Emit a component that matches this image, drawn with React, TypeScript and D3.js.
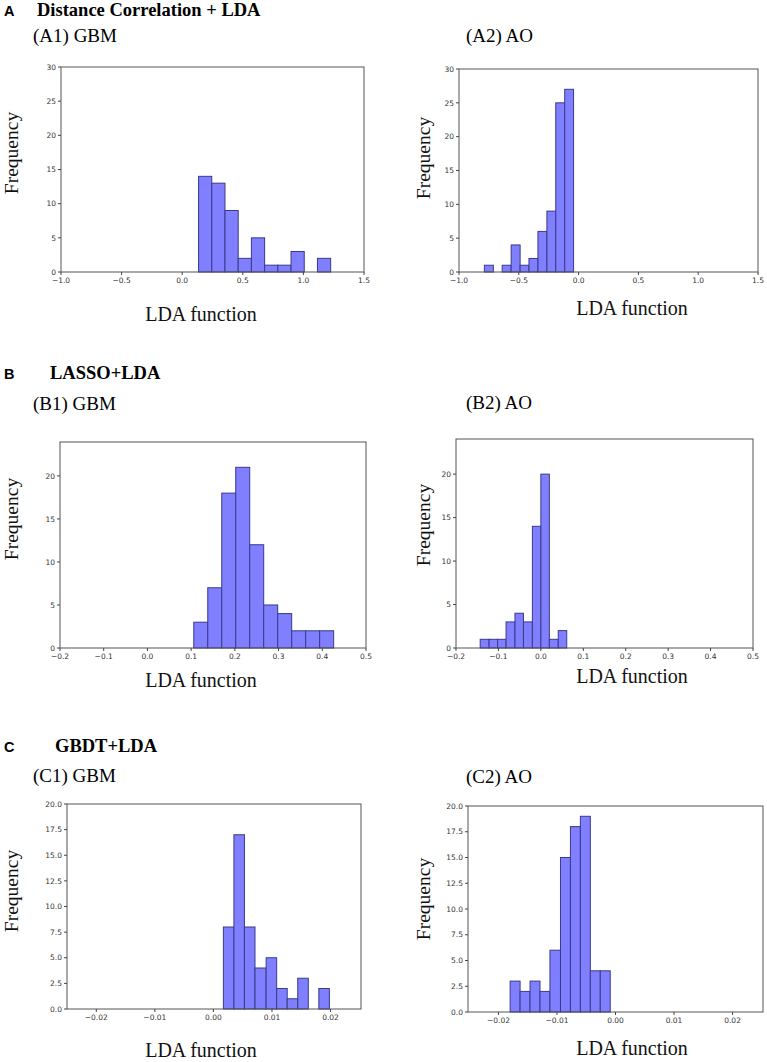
import React from "react";
import * as d3 from "d3";

// ---- data ----
const a1Edges = [0.135, 0.244, 0.353, 0.462, 0.571, 0.68, 0.789, 0.898, 1.007, 1.116, 1.225];
const a1Counts = [14, 13, 9, 2, 5, 1, 1, 3, 0, 2];
const a2Edges = [-0.788, -0.713, -0.639, -0.564, -0.489, -0.415, -0.34, -0.265, -0.191, -0.116, -0.042];
const a2Counts = [1, 0, 1, 4, 1, 2, 6, 9, 25, 27];
const b1Edges = [0.106, 0.138, 0.17, 0.202, 0.234, 0.266, 0.298, 0.33, 0.362, 0.394, 0.426];
const b1Counts = [3, 7, 18, 21, 12, 5, 4, 2, 2, 2];
const b2Edges = [-0.143, -0.122, -0.102, -0.082, -0.061, -0.041, -0.02, 0.0, 0.02, 0.041, 0.061];
const b2Counts = [1, 1, 1, 3, 4, 3, 14, 20, 1, 2];
const c1Edges = [0.0017, 0.0035, 0.0053, 0.0071, 0.009, 0.0108, 0.0126, 0.0144, 0.0162, 0.018, 0.0198];
const c1Counts = [8, 17, 8, 4, 5, 2, 1, 3, 0, 2];
const c2Edges = [-0.018, -0.0163, -0.0146, -0.0129, -0.0112, -0.0094, -0.0077, -0.006, -0.0043, -0.0026, -0.0009];
const c2Counts = [3, 2, 3, 2, 6, 15, 18, 19, 4, 4];

const aXTicks = [-1.0, -0.5, 0.0, 0.5, 1.0, 1.5];
const aYTicks = [0, 5, 10, 15, 20, 25, 30];
const bXTicks = [-0.2, -0.1, 0.0, 0.1, 0.2, 0.3, 0.4, 0.5];
const bYTicks = [0, 5, 10, 15, 20];
const cXTicks = [-0.02, -0.01, 0.0, 0.01, 0.02];
const cYTicks = [0, 2.5, 5, 7.5, 10, 12.5, 15, 17.5, 20];

const sectionLetters = ["A", "B", "C"];
const sectionTitles = ["Distance Correlation + LDA", "LASSO+LDA", "GBDT+LDA"];
const panelTitles = ["(A1) GBM", "(A2) AO", "(B1) GBM", "(B2) AO", "(C1) GBM", "(C2) AO"];
const xLabel = "LDA function";
const yLabel = "Frequency";

const SERIF = "'Liberation Serif', 'Times New Roman', serif";
const SANS = "'DejaVu Sans', sans-serif";

const fmt = (d: number) => (s: number) => {
  const t = Math.abs(s).toFixed(d);
  return (s < 0 && parseFloat(t) !== 0 ? "\u2212" : "") + t;
};

type HistProps = {
  x0: number; x1: number; y0: number; y1: number;
  xDomain: [number, number]; yDomain: [number, number];
  xTicks: number[]; yTicks: number[];
  xFmt: (v: number) => string; yFmt: (v: number) => string;
  edges: number[]; counts: number[];
  ylx: number; yly: number; xlx: number; xly: number;
};

function Hist(p: HistProps) {
  const x = d3.scaleLinear().domain(p.xDomain).range([p.x0, p.x1]);
  const y = d3.scaleLinear().domain(p.yDomain).range([p.y1, p.y0]);
  return (
    <g>
      {p.counts.map((c, i) =>
        c > 0 ? (
          <rect
            key={i}
            x={x(p.edges[i])}
            y={y(c)}
            width={x(p.edges[i + 1]) - x(p.edges[i])}
            height={y(0) - y(c)}
            fill="#7f7fff"
            stroke="#3a3a8c"
            strokeWidth={1}
          />
        ) : null
      )}
      <rect x={p.x0} y={p.y0} width={p.x1 - p.x0} height={p.y1 - p.y0} fill="none" stroke="#555" strokeWidth={1} />
      {p.xTicks.map((t, i) => (
        <g key={"x" + i}>
          <line x1={x(t)} x2={x(t)} y1={p.y1} y2={p.y1 + 3} stroke="#444" />
          <text x={x(t)} y={p.y1 + 11} fontFamily={SANS} fontSize={7.5} fill="#333" textAnchor="middle">
            {p.xFmt(t)}
          </text>
        </g>
      ))}
      {p.yTicks.map((t, i) => (
        <g key={"y" + i}>
          <line x1={p.x0 - 3} x2={p.x0} y1={y(t)} y2={y(t)} stroke="#444" />
          <text x={p.x0 - 5} y={y(t) + 2.7} fontFamily={SANS} fontSize={7.5} fill="#333" textAnchor="end">
            {p.yFmt(t)}
          </text>
        </g>
      ))}
      <text
        transform={`translate(${p.ylx},${p.yly}) rotate(-90)`}
        fontFamily={SERIF}
        fontSize={19.5}
        textAnchor="middle"
        fill="#111"
      >
        {yLabel}
      </text>
      <text x={p.xlx} y={p.xly} fontFamily={SERIF} fontSize={20} textAnchor="middle" fill="#111">
        {xLabel}
      </text>
    </g>
  );
}

export default function App() {
  const f1 = fmt(1);
  const f2 = fmt(2);
  const f0 = fmt(0);
  return (
    <svg width={767} height={1062} style={{ position: "absolute", left: 0, top: 0, background: "#fff" }}>
      <rect width={767} height={1062} fill="#fff" />
      {/* section headers */}
      {[16, 379, 752].map((yy, i) => (
        <g key={i}>
          <text x={4} y={yy} fontFamily="'Liberation Sans', Arial, sans-serif" fontWeight="bold" fontSize={14.5}>
            {sectionLetters[i]}
          </text>
          <text x={[37, 50, 55][i]} y={yy} fontFamily={SERIF} fontWeight="bold" fontSize={18.5}>
            {sectionTitles[i]}
          </text>
        </g>
      ))}
      {[
        [33, 42], [466, 42], [33, 410], [466, 409], [33, 782], [466, 783],
      ].map(([xx, yy], i) => (
        <text key={i} x={xx} y={yy} fontFamily={SERIF} fontSize={19}>
          {panelTitles[i]}
        </text>
      ))}
      <Hist x0={61} x1={364} y0={67} y1={272} xDomain={[-1, 1.5]} yDomain={[0, 30]}
        xTicks={aXTicks} yTicks={aYTicks} xFmt={f1} yFmt={f0}
        edges={a1Edges} counts={a1Counts} ylx={18} yly={153} xlx={201} xly={321} />
      <Hist x0={459} x1={758} y0={69} y1={272} xDomain={[-1, 1.5]} yDomain={[0, 30]}
        xTicks={aXTicks} yTicks={aYTicks} xFmt={f1} yFmt={f0}
        edges={a2Edges} counts={a2Counts} ylx={430} yly={158} xlx={632} xly={315} />
      <Hist x0={60} x1={366} y0={442} y1={648} xDomain={[-0.2, 0.5]} yDomain={[0, 23.94]}
        xTicks={bXTicks} yTicks={bYTicks} xFmt={f1} yFmt={f0}
        edges={b1Edges} counts={b1Counts} ylx={18} yly={519} xlx={201} xly={687} />
      <Hist x0={456} x1={753} y0={439} y1={648} xDomain={[-0.2, 0.5]} yDomain={[0, 24.04]}
        xTicks={bXTicks} yTicks={bYTicks} xFmt={f1} yFmt={f0}
        edges={b2Edges} counts={b2Counts} ylx={430} yly={525} xlx={632} xly={683} />
      <Hist x0={67} x1={361} y0={804} y1={1009} xDomain={[-0.025, 0.0252]} yDomain={[0, 20]}
        xTicks={cXTicks} yTicks={cYTicks} xFmt={f2} yFmt={f1}
        edges={c1Edges} counts={c1Counts} ylx={18} yly={891} xlx={201} xly={1057} />
      <Hist x0={468} x1={763} y0={806} y1={1012} xDomain={[-0.0252, 0.0252]} yDomain={[0, 20]}
        xTicks={cXTicks} yTicks={cYTicks} xFmt={f2} yFmt={f1}
        edges={c2Edges} counts={c2Counts} ylx={430} yly={899} xlx={632} xly={1055} />
    </svg>
  );
}
